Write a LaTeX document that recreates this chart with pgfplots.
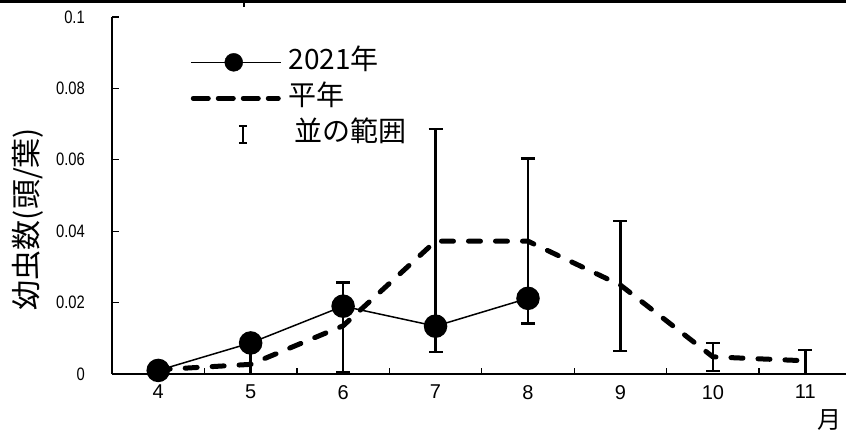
\documentclass[border=0pt]{standalone}
\usepackage{pgfplots}
\pgfplotsset{compat=1.18}
\usepackage{fontspec}
\setmainfont{Liberation Sans}
\newfontfamily\cjk{Noto Sans CJK JP}
\newfontfamily\ynum[FakeStretch=0.82]{Liberation Sans}
\begin{document}
\begin{tikzpicture}
\begin{axis}[
  scale only axis, width=734bp, height=357bp,
  xmin=3.5, xmax=11.44, ymin=0, ymax=0.1,
  axis x line*=bottom, axis y line*=left,
  axis line style={line width=1.5bp, black},
  tick align=inside,
  tick style={line width=1.3bp, black},
  xtick={4,5,6,7,8,9,10,11},
  xticklabels={4,5,6,7,8,9,10,11},
  minor xtick={4.5,5.5,6.5,7.5,8.5,9.5,10.5},
  major x tick style={draw=none},
  minor tick length=6bp, major tick length=7bp,
  ytick={0,0.02,0.04,0.06,0.08,0.1},
  yticklabels={0,0.02,0.04,0.06,0.08,0.1},
  xticklabel style={font=\fontsize{20bp}{22bp}\selectfont, inner sep=0pt, anchor=north, yshift=-11bp},
  yticklabel style={font=\ynum\fontsize{18bp}{20bp}\selectfont, inner sep=0pt, anchor=east, xshift=-27bp},
  ylabel={幼虫数(頭/葉)},
  ylabel style={font=\cjk\fontsize{30bp}{31bp}\selectfont, at={(axis description cs:-0.115,0.434)}, anchor=center},
  xlabel={月},
  xlabel style={font=\cjk\fontsize{24bp}{25bp}\selectfont, at={(axis description cs:0.978,-0.129)}, anchor=center},
  legend style={at={(axis description cs:0.106,0.91)}, anchor=north west, draw=none, fill=none,
    inner sep=0pt, row sep=10bp, column sep=7bp,
    font=\cjk\fontsize{28bp}{29bp}\selectfont,
    nodes={inner sep=0pt, text height=20bp, text depth=6bp}},
  legend cell align=left,
]
\addlegendimage{legend image code/.code={\draw[black, solid, line width=1.5bp] (0bp,0bp) -- (90bp,0bp); \fill[black] (43bp,0bp) circle (9bp);}}
\addlegendentry{2021年}
\addlegendimage{legend image code/.code={\draw[black, line width=5bp, line cap=round, dash pattern=on 15bp off 10bp] (2.5bp,0bp) -- (87.5bp,0bp);}}
\addlegendentry{平年}
\addlegendimage{legend image code/.code={\draw[black, solid, line width=1.5bp] (52bp,-8.5bp) -- (52bp,8.5bp) (48bp,-8.5bp) -- (56bp,-8.5bp) (48bp,8.5bp) -- (56bp,8.5bp); \path[draw=none, fill=none] (0bp,0bp) rectangle (90bp,0.1bp);}}
\addlegendentry{\hspace*{6bp}並の範囲}

% range of normal years (lower, upper)
\addplot[draw=none, mark=none, forget plot,
  error bars/.cd, y dir=both, y explicit,
  error bar style={draw=black, solid, line width=2.4bp},
  error mark options={rotate=90, draw=black, solid, line width=2.4bp, mark size=7bp}]
  table[x=x, y expr=(\thisrow{lo}+\thisrow{hi})/2, y error expr=(\thisrow{hi}-\thisrow{lo})/2] {
x lo hi
6 0.0005 0.0256
7 0.0061 0.0686
8 0.0142 0.0604
9 0.0065 0.0429
10 0.0008 0.0086
};
\addplot[draw=none, mark=none, forget plot,
  error bars/.cd, y dir=plus, y explicit,
  error bar style={draw=black, solid, line width=2.4bp},
  error mark options={rotate=90, draw=black, solid, line width=2.4bp, mark size=7bp}]
  table[x=x, y=lo, y error plus=hi] {
x lo hi
5 0 0.0080
11 0 0.0067
};

% normal year
\addplot[black, line width=5bp, line cap=round, line join=round, dash pattern=on 12bp off 15bp, mark=none, forget plot]
  coordinates {(4,0.0012) (5,0.0027) (6,0.0135) (7,0.0372) (8,0.0372) (9,0.0249) (10,0.0048) (11,0.0037)};

% 2021
\addplot[black, line width=1.5bp, mark=*, mark size=11bp, mark options={solid, fill=black}, forget plot]
  coordinates {(4,0.0010) (5,0.0087) (6,0.0190) (7,0.0134) (8,0.0212)};
\end{axis}
\fill[black] (-112bp,370.5bp) rectangle (734bp,374bp);
\draw[black, line width=1.5bp] (132bp,374bp) -- (132bp,367bp);
\pgfresetboundingbox
\path[use as bounding box] (-112bp,-60bp) rectangle (734bp,374bp);
\end{tikzpicture}
\end{document}
